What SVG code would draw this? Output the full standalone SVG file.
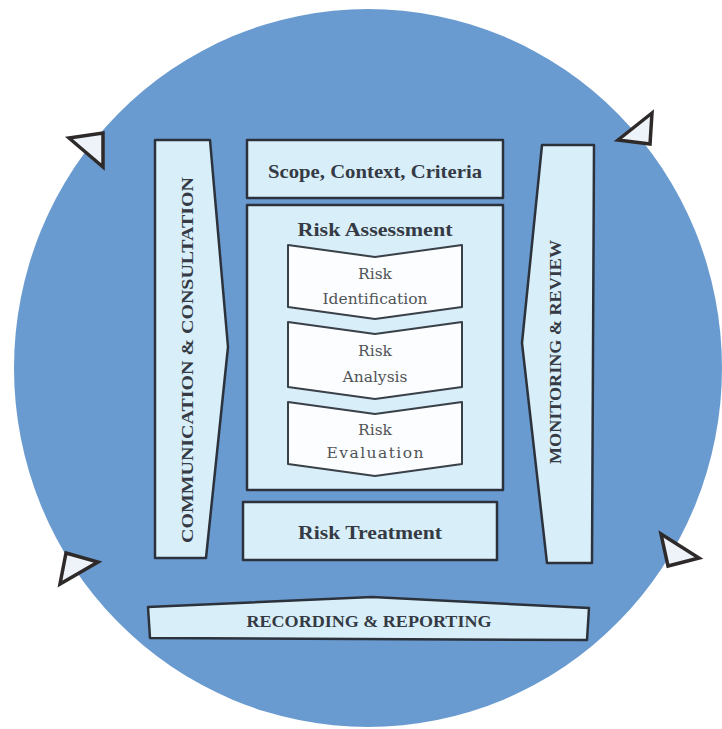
<svg xmlns="http://www.w3.org/2000/svg" width="722" height="729" viewBox="0 0 722 729">
  <style>
    .box { fill: #d8effa; stroke: #2c323c; stroke-width: 2.5; stroke-linejoin: round; }
    .step { fill: #fbfdff; stroke: #3a4048; stroke-width: 2; stroke-linejoin: round; }
    .lbl { font-family: "Liberation Serif", "DejaVu Serif", serif; font-weight: bold; fill: #353a44; text-anchor: middle; dominant-baseline: central; }
    .caps { font-size: 16px; }
    .head { font-size: 19px; }
    .steptxt { font-family: "DejaVu Serif", "Liberation Serif", serif; font-size: 15.5px; fill: #505458; text-anchor: middle; dominant-baseline: central; }
    .cyc { fill: #eef3fa; stroke: #2e2a2a; stroke-width: 3.5; stroke-linejoin: miter; }
  </style>

  <!-- background process circle -->
  <ellipse id="cycle" cx="368" cy="368" rx="354" ry="359" fill="#6a9bd0"/>

  <!-- rotation arrowheads sitting on the rim -->
  <g id="cycle-arrows">
    <polygon class="cyc" points="69,138 103,133 103,167"/>
    <polygon class="cyc" points="618,140 652,113 650,144"/>
    <polygon class="cyc" points="66,553 98,562 60,584"/>
    <polygon class="cyc" points="661,534 699,558 668,566"/>
  </g>

  <!-- side bar: communication & consultation -->
  <g id="communication">
    <polygon class="box" points="155,140 210,140 228,347 206,558 155,558"/>
    <text class="lbl caps" transform="translate(187,360) rotate(-90)" textLength="366" lengthAdjust="spacingAndGlyphs">COMMUNICATION &amp; CONSULTATION</text>
  </g>

  <!-- side bar: monitoring & review -->
  <g id="monitoring">
    <polygon class="box" points="542,145 594,145 592,563 547,563 522,343"/>
    <text class="lbl caps" transform="translate(555,352) rotate(-90)" textLength="224" lengthAdjust="spacingAndGlyphs">MONITORING &amp; REVIEW</text>
  </g>

  <!-- scope, context, criteria -->
  <g id="scope">
    <rect class="box" x="247" y="140" width="256" height="58"/>
    <text class="lbl head" x="375" y="171" textLength="214" lengthAdjust="spacingAndGlyphs">Scope, Context, Criteria</text>
  </g>

  <!-- risk assessment container with its three steps -->
  <g id="assessment">
    <rect class="box" x="247" y="205" width="256" height="285"/>
    <text class="lbl head" x="375" y="229" textLength="155" lengthAdjust="spacingAndGlyphs">Risk Assessment</text>
  </g>

  <g id="identification">
    <polygon class="step" points="288,245 375,257 462,245 462,307 375,319 288,307"/>
    <text class="steptxt" x="375" y="274">Risk</text>
    <text class="steptxt" x="375" y="299">Identification</text>
  </g>

  <g id="analysis">
    <polygon class="step" points="288,322 375,334 462,322 462,387 375,399 288,387"/>
    <text class="steptxt" x="375" y="351">Risk</text>
    <text class="steptxt" x="375" y="377">Analysis</text>
  </g>

  <g id="evaluation">
    <polygon class="step" points="288,402 375,414 462,402 462,464 375,476 288,464"/>
    <text class="steptxt" x="375" y="430">Risk</text>
    <text class="steptxt" x="375" y="453" textLength="97" lengthAdjust="spacing">Evaluation</text>
  </g>

  <!-- risk treatment -->
  <g id="treatment">
    <rect class="box" x="243" y="502" width="254" height="58"/>
    <text class="lbl head" x="370" y="532" textLength="144" lengthAdjust="spacingAndGlyphs">Risk Treatment</text>
  </g>

  <!-- bottom bar: recording & reporting -->
  <g id="recording">
    <polygon class="box" points="148,607 372,597 589,608 587,640 150,638"/>
    <text class="lbl caps" x="369" y="621" textLength="245" lengthAdjust="spacingAndGlyphs">RECORDING &amp; REPORTING</text>
  </g>

  <g id="connectors"/>
</svg>
